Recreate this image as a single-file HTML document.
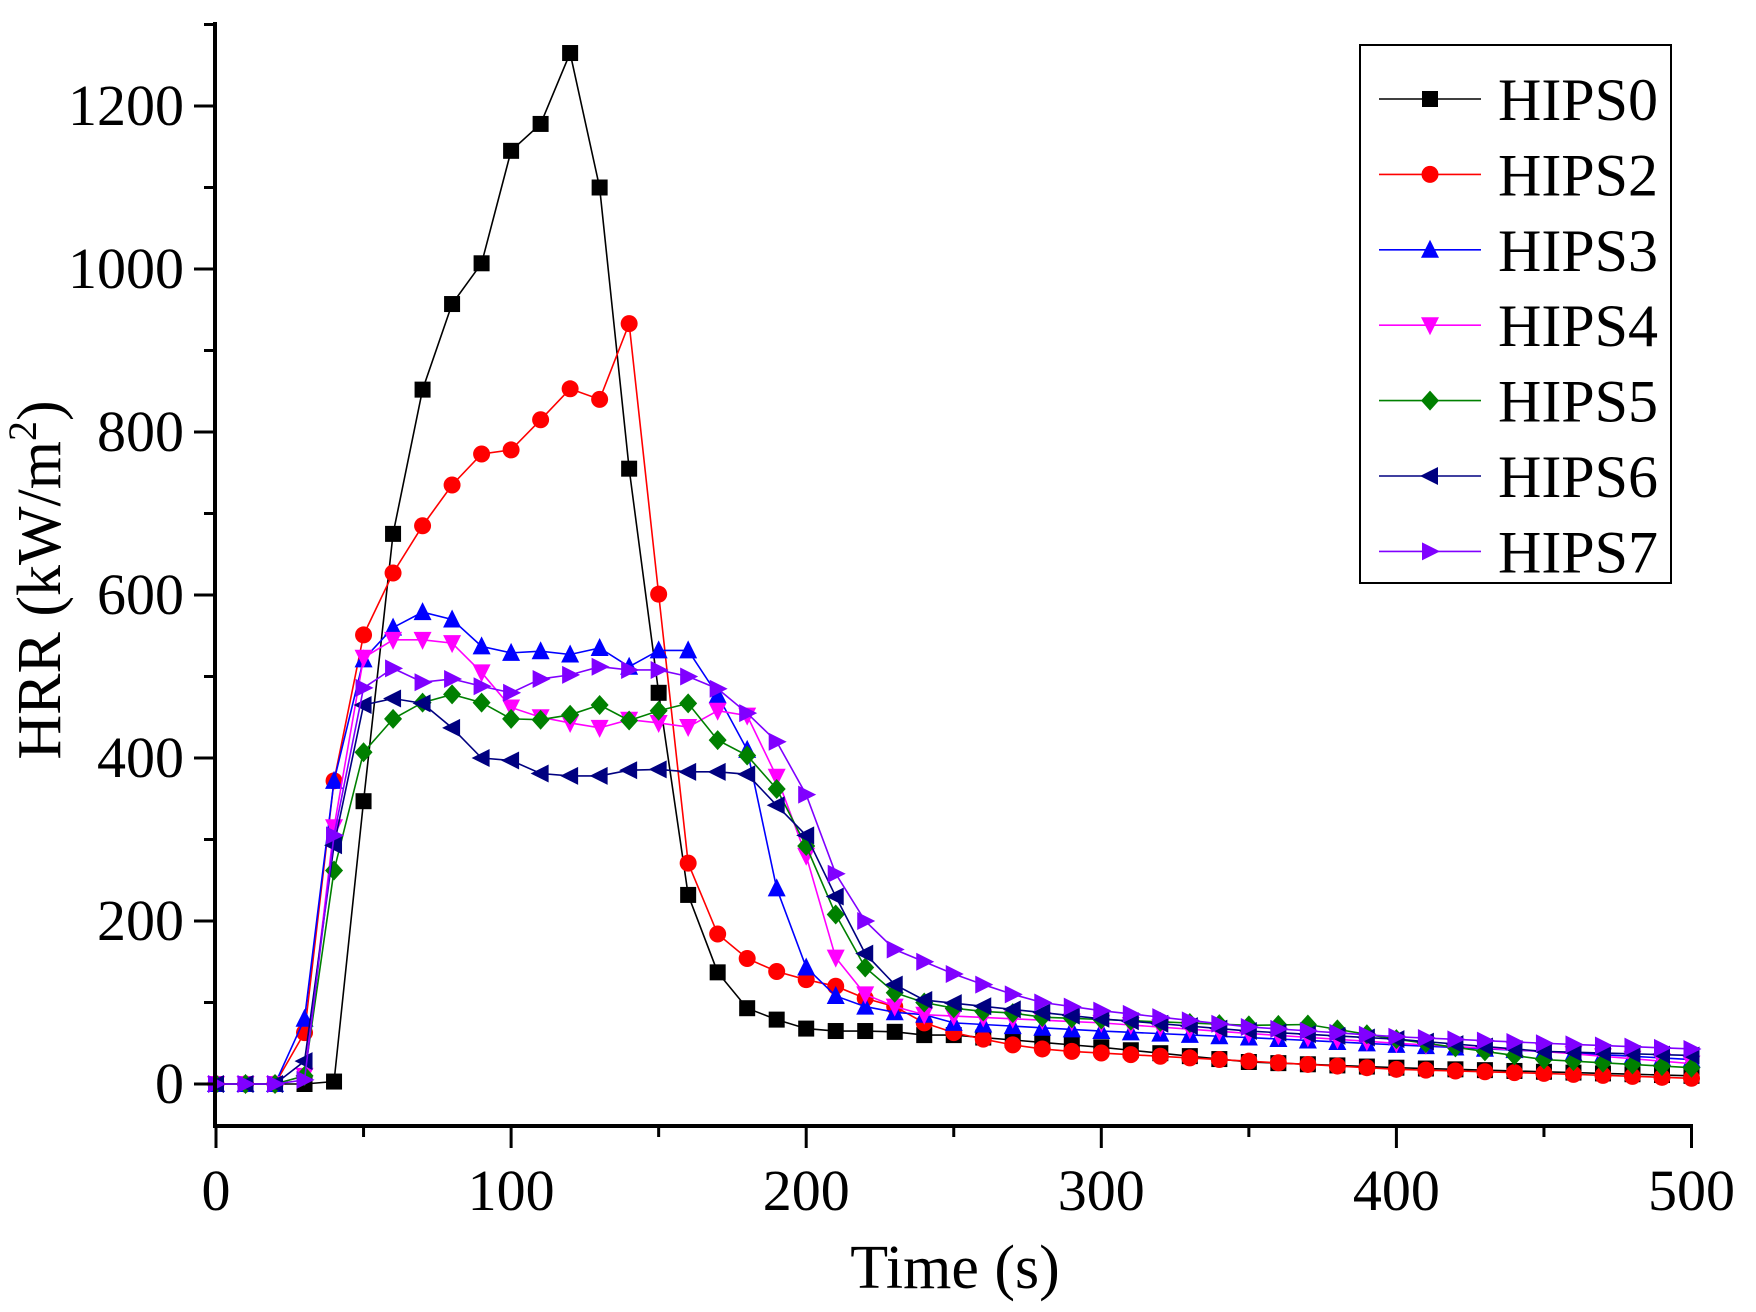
<!DOCTYPE html>
<html><head><meta charset="utf-8"><style>
html,body{margin:0;padding:0;background:#fff;}
svg{display:block;font-family:"Liberation Serif",serif;}
</style></head><body>
<svg id="s" width="1756" height="1312" viewBox="0 0 1756 1312" xmlns="http://www.w3.org/2000/svg">
<rect width="1756" height="1312" fill="#fff"/>
<g id="plot"></g>
<g id="axes" stroke="#000" stroke-width="4" fill="none">
<line x1="215" y1="22" x2="215" y2="1128"/>
<line x1="213" y1="1126" x2="1693" y2="1126"/>
</g>
<g id="ticks" stroke="#000" stroke-width="3"></g>
<g id="labels" font-size="58" fill="#000"></g>
<text x="955" y="1288" font-size="62" text-anchor="middle">Time (s)</text>
<text transform="translate(60,580) rotate(-90)" font-size="62" text-anchor="middle">HRR (kW/m<tspan font-size="40" dy="-24">2</tspan><tspan dy="24">)</tspan></text>
<rect x="1360" y="45" width="311" height="538" fill="#fff" stroke="#000" stroke-width="2"/>
<g id="legend" font-size="60"></g>
</svg>
<script>
const NS="http://www.w3.org/2000/svg";
const X=t=>216+t*2.951, Y=v=>1084-v*0.815;
function el(tag,attrs,parent){const e=document.createElementNS(NS,tag);for(const k in attrs)e.setAttribute(k,attrs[k]);parent.appendChild(e);return e;}
const ticks=document.getElementById('ticks'),labels=document.getElementById('labels');
for(let v=0;v<=1300;v+=100){const y=Y(v);const major=v%200==0;el('line',{x1:major?194:204,y1:y,x2:215,y2:y},ticks);
 if(major){const t=el('text',{x:184,y:y+19,'text-anchor':'end'},labels);t.textContent=v;}}
for(let t=0;t<=500;t+=50){const x=X(t);const major=t%100==0;el('line',{x1:x,y1:1126,x2:x,y2:major?1148:1137},ticks);
 if(major){const e=el('text',{x:x,y:1210,'text-anchor':'middle'},labels);e.textContent=t;}}
const series=[
["HIPS0","#000","sq",{0:0,20:0,30:0,40:3,50:347,60:675,70:852,80:957,90:1007,100:1145,110:1178,120:1265,130:1100,140:755,150:480,160:232,170:137,180:93,190:79,200:68,210:65,220:65,230:64,240:60,250:60,260:57,300:45,350:27,400:20,450:15,500:10}],
["HIPS2","#ff0000","ci",{0:0,20:0,30:63,40:372,50:551,60:627,70:685,80:735,90:773,100:778,110:815,120:853,130:840,140:933,150:601,160:271,170:184,180:154,190:138,200:128,210:120,220:105,230:95,240:75,250:63,260:55,270:48,280:43,290:40,300:38,350:28,400:18,450:13,500:7}],
["HIPS3","#0000ff","tu",{0:0,20:0,30:80,40:372,50:521,60:560,70:579,80:570,90:537,100:529,110:531,120:527,130:535,140:512,150:532,160:532,170:477,180:410,190:240,200:143,210:108,220:95,230:88,240:85,250:75,300:65,350:57,400:48,450:40,500:30}],
["HIPS4","#ff00ff","td",{0:0,20:0,30:10,40:315,50:523,60:545,70:545,80:541,90:505,100:462,110:450,120:443,130:437,140:447,150:443,160:438,170:458,180:452,190:377,200:280,210:155,220:110,230:95,240:85,300:75,350:62,400:50,450:40,500:25}],
["HIPS5","#008000","di",{0:0,20:0,30:10,40:262,50:407,60:448,70:468,80:478,90:468,100:448,110:447,120:453,130:465,140:446,150:458,160:467,170:422,180:403,190:362,200:292,210:208,220:143,230:112,240:100,250:93,260:89,270:87,280:82,350:72,370:73,400:55,450:30,500:20}],
["HIPS6","#000080","tl",{0:0,20:0,30:28,40:293,50:465,60:473,70:467,80:437,90:400,100:397,110:381,120:378,130:378,140:385,150:386,160:383,170:383,180:380,190:342,200:305,210:230,220:160,230:122,240:103,300:80,350:65,400:55,450:40,500:35}],
["HIPS7","#8000ff","tr",{0:0,20:0,30:5,40:305,50:486,60:510,70:493,80:497,90:488,100:480,110:497,120:502,130:512,140:508,150:508,160:500,170:485,180:455,190:420,200:355,210:258,220:200,230:165,240:150,250:135,260:122,270:110,280:100,290:95,300:90,350:70,400:58,450:50,500:43}]
];
function interp(a,t){const ks=Object.keys(a).map(Number).sort((p,q)=>p-q);if(a[t]!==undefined)return a[t];
 for(let i=0;i<ks.length-1;i++){if(t>ks[i]&&t<ks[i+1]){const f=(t-ks[i])/(ks[i+1]-ks[i]);return a[ks[i]]+f*(a[ks[i+1]]-a[ks[i]]);}}return 0;}
function marker(type,x,y,c,p){const s=8;let d;
 if(type=='sq')return el('rect',{x:x-s,y:y-s,width:2*s,height:2*s,fill:c},p);
 if(type=='ci')return el('circle',{cx:x,cy:y,r:s+0.5,fill:c},p);
 if(type=='tu')d=`M${x},${y-s-2}L${x+s+1},${y+s}L${x-s-1},${y+s}Z`;
 if(type=='td')d=`M${x},${y+s+2}L${x+s+1},${y-s}L${x-s-1},${y-s}Z`;
 if(type=='di')d=`M${x},${y-s-2}L${x+s+1},${y}L${x},${y+s+2}L${x-s-1},${y}Z`;
 if(type=='tl')d=`M${x-s-2},${y}L${x+s},${y-s-1}L${x+s},${y+s+1}Z`;
 if(type=='tr')d=`M${x+s+2},${y}L${x-s},${y-s-1}L${x-s},${y+s+1}Z`;
 return el('path',{d:d,fill:c},p);}
const plot=document.getElementById('plot'),leg=document.getElementById('legend');
series.forEach((s,i)=>{const pts=[];for(let t=0;t<=500;t+=10)pts.push([X(t),Y(interp(s[3],t))]);
 el('polyline',{points:pts.map(p=>p.join(',')).join(' '),fill:'none',stroke:s[1],'stroke-width':1.6},plot);
 pts.forEach(p=>marker(s[2],p[0],p[1],s[1],plot));
 const ly=99+i*75.4;el('line',{x1:1379,y1:ly,x2:1481,y2:ly,stroke:s[1],'stroke-width':1.6},leg);
 marker(s[2],1430,ly,s[1],leg);const t=el('text',{x:1498,y:ly+21},leg);t.textContent=s[0];});
</script>
</body></html>
